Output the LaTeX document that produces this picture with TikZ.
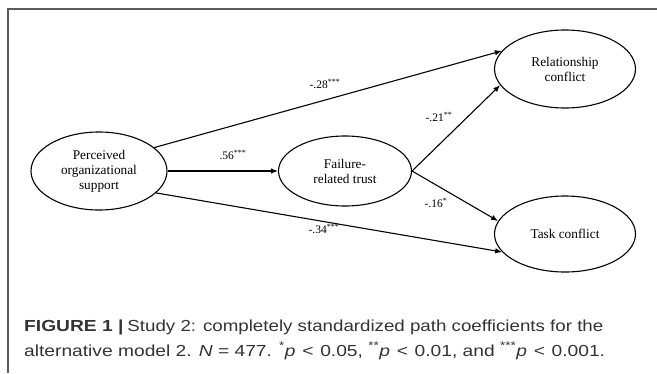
\documentclass[tikz,border=0pt]{standalone}
\usepackage{fontspec}
\setmainfont{Liberation Serif}
\newfontfamily\capfont{Liberation Sans}
\usetikzlibrary{shapes.geometric,arrows.meta}
\definecolor{framegray}{HTML}{5A5A5A}
\definecolor{captext}{HTML}{333333}
\newcommand{\lessthan}{\hspace{0.35em}<\hspace{0.35em}}
\begin{document}
\begin{tikzpicture}[x=1pt,y=-1pt,
  latent/.style={draw,ellipse,line width=1.1pt,inner sep=0pt,align=center,
    font=\fontsize{13.3}{15}\selectfont},
  path/.style={line width=1.1pt,-{Latex[length=7pt,width=5.5pt]}},
  coef/.style={font=\fontsize{11.5}{13}\selectfont,inner sep=0pt},
  captionline/.style={anchor=base west,inner sep=0pt,text=captext,
    font=\capfont\fontsize{16}{20}\selectfont}]
\useasboundingbox (0,0) rectangle (657,373);
\draw[framegray,line width=1.3pt] (8,373) -- (8,9) -- (657,9);

\node[latent,minimum width=136pt,minimum height=78pt] (pos) at (99,171)
  {Perceived\\organizational\\support};
\node[latent,minimum width=133pt,minimum height=70pt] (frt) at (345,171)
  {Failure-\\related trust};
\node[latent,minimum width=141pt,minimum height=78pt] (rc) at (565,69)
  {Relationship\\conflict};
\node[latent,minimum width=141pt,minimum height=76pt] (tc) at (565,234)
  {Task conflict};

\draw[path] (pos.23) -- (rc.164);
\draw[path] (pos) -- (frt);
\draw[path] (pos.-21) -- (tc.196);
\draw[path] (frt.east) -- (rc.194);
\draw[path] (frt.east) -- (tc.169);

\node[coef] (l1) at (325,84) {-.28\textsuperscript{***}};
\node[coef] (l2) at (233,155) {.56\textsuperscript{***}};
\node[coef] (l3) at (324,229) {-.34\textsuperscript{***}};
\node[coef] (l4) at (439,117) {-.21\textsuperscript{**}};
\node[coef] (l5) at (436,203) {-.16\textsuperscript{*}};

\node[captionline] (cap1) at (24,331)
  {\scalebox{1.2}[1]{\textbf{FIGURE 1 |}}\hspace{0.25em}\scalebox{1.17}[1]{Study 2: completely standardized path coefficients for the}};
\node[captionline] (cap2) at (24,356)
  {\scalebox{1.2}[1]{alternative model 2. \textit{N} = 477. \textsuperscript{*}\textit{p}\lessthan0.05, \textsuperscript{**}\textit{p}\lessthan0.01, and \textsuperscript{***}\textit{p}\lessthan0.001.}};
\end{tikzpicture}
\end{document}
